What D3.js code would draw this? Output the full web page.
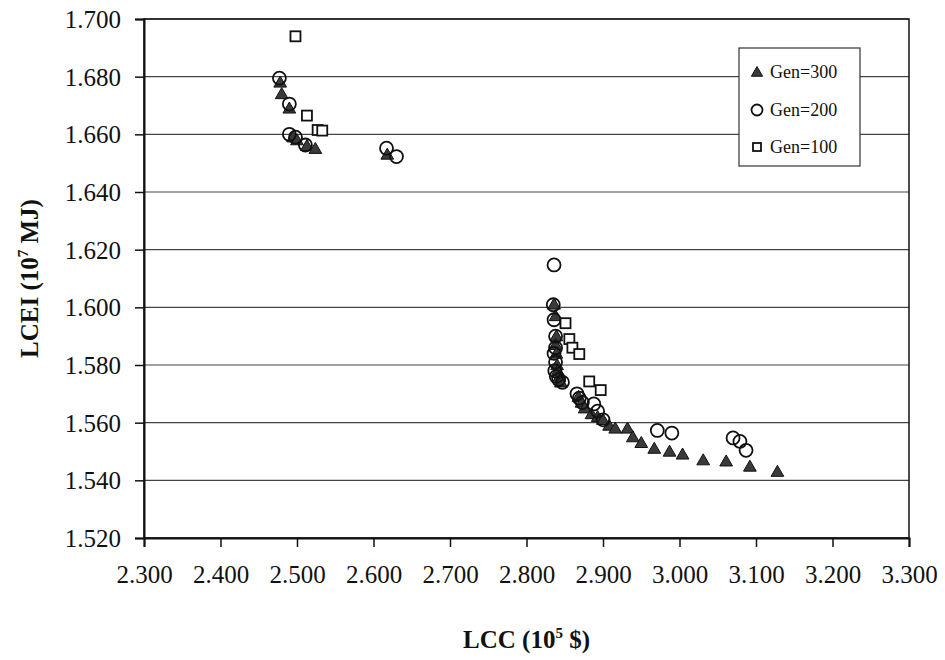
<!DOCTYPE html>
<html><head><meta charset="utf-8">
<script src="https://cdn.jsdelivr.net/npm/d3@7/dist/d3.min.js"></script>
<style>body{margin:0;background:#fff}svg{display:block}</style>
</head><body>
<svg id="c" width="945" height="660"></svg>
<script>
const gen300 = [
 [2.478,1.678],[2.480,1.674],[2.490,1.669],[2.495,1.659],[2.500,1.658],[2.513,1.656],[2.524,1.655],[2.618,1.653],
 [2.836,1.601],[2.838,1.597],[2.839,1.590],[2.838,1.587],[2.839,1.584],[2.840,1.580],[2.841,1.578],[2.843,1.576],
 [2.845,1.574],[2.868,1.569],[2.872,1.567],[2.876,1.565],[2.885,1.563],[2.893,1.562],[2.900,1.561],[2.908,1.559],
 [2.916,1.558],[2.932,1.558],[2.939,1.555],[2.950,1.553],[2.967,1.551],[2.987,1.550],[3.004,1.549],[3.031,1.547],
 [3.061,1.5466],[3.092,1.5448],[3.128,1.543]
];
const gen200 = [
 [2.477,1.6795],[2.490,1.6705],[2.490,1.660],[2.498,1.659],[2.511,1.6563],[2.617,1.6552],[2.630,1.6523],
 [2.836,1.6147],[2.835,1.6009],[2.836,1.5957],[2.838,1.590],[2.838,1.586],[2.836,1.584],[2.838,1.581],[2.837,1.578],
 [2.839,1.576],[2.842,1.575],[2.847,1.574],[2.866,1.570],[2.869,1.5685],[2.873,1.567],[2.888,1.5665],[2.893,1.564],
 [2.900,1.561],[2.971,1.5573],[2.990,1.5564],[3.070,1.5547],[3.079,1.5535],[3.087,1.5504]
];
const gen100 = [
 [2.498,1.694],[2.513,1.6665],[2.527,1.6615],[2.533,1.6613],
 [2.851,1.5945],[2.856,1.589],[2.860,1.586],[2.869,1.5838],[2.882,1.5743],[2.897,1.5713]
];
const xTicks = [2.3,2.4,2.5,2.6,2.7,2.8,2.9,3.0,3.1,3.2,3.3];
const yTicks = [1.52,1.54,1.56,1.58,1.60,1.62,1.64,1.66,1.68,1.70];
const legendLabels = ["Gen=300","Gen=200","Gen=100"];

const svg = d3.select("#c");
const L=144, R=909, T=19, B=538;
const x = d3.scaleLinear().domain([2.3,3.3]).range([L,R]);
const y = d3.scaleLinear().domain([1.52,1.70]).range([B,T]);
const font = "'Liberation Serif','Times New Roman',serif";

// gridlines
svg.append("g").selectAll("line").data(yTicks).join("line")
  .attr("x1",L).attr("x2",R).attr("y1",d=>y(d)).attr("y2",d=>y(d))
  .attr("stroke","#444").attr("stroke-width",1.2);
// frame
svg.append("rect").attr("x",L).attr("y",T).attr("width",R-L).attr("height",B-T)
  .attr("fill","none").attr("stroke","#111").attr("stroke-width",1.5);

const gx = svg.append("g").attr("transform",`translate(0,${B})`)
  .call(d3.axisBottom(x).tickValues(xTicks).tickFormat(d3.format(".3f")).tickSize(9).tickPadding(18));
const gy = svg.append("g").attr("transform",`translate(${L},0)`)
  .call(d3.axisLeft(y).tickValues(yTicks).tickFormat(d3.format(".3f")).tickSize(9).tickPadding(14));
[gx,gy].forEach(g=>{
  g.select(".domain").attr("stroke","#111").attr("stroke-width",2);
  g.selectAll(".tick line").attr("stroke","#111").attr("stroke-width",1.5);
  g.selectAll("text").attr("font-family",font).attr("font-size",25).attr("fill","#111");
});
gy.selectAll("text").attr("dy","0.34em");

// titles
const xt = svg.append("text").attr("x",(L+R)/2).attr("y",648).attr("text-anchor","middle")
  .attr("font-family",font).attr("font-weight","bold").attr("font-size",25).attr("fill","#111");
xt.append("tspan").text("LCC (10");
xt.append("tspan").text("5").attr("font-size",15).attr("dy",-10);
xt.append("tspan").text(" $)").attr("dy",10);

const yt = svg.append("text").attr("transform",`translate(38,${(T+B)/2}) rotate(-90)`).attr("text-anchor","middle")
  .attr("font-family",font).attr("font-weight","bold").attr("font-size",25).attr("fill","#111");
yt.append("tspan").text("LCEI (10");
yt.append("tspan").text("7").attr("font-size",15).attr("dy",-10);
yt.append("tspan").text(" MJ)").attr("dy",10);

const tri = d3.symbol().type(d3.symbolTriangle).size(70);
// series
svg.append("g").selectAll("path").data(gen300).join("path")
  .attr("d",tri).attr("transform",d=>`translate(${x(d[0])},${y(d[1])+1})`)
  .attr("fill","#3a3a3a").attr("stroke","#111").attr("stroke-width",1);
svg.append("g").selectAll("circle").data(gen200).join("circle")
  .attr("cx",d=>x(d[0])).attr("cy",d=>y(d[1])).attr("r",6.5)
  .attr("fill","none").attr("stroke","#111").attr("stroke-width",1.8);
svg.append("g").selectAll("rect").data(gen100).join("rect")
  .attr("x",d=>x(d[0])-5).attr("y",d=>y(d[1])-5).attr("width",10).attr("height",10)
  .attr("fill","#fff").attr("stroke","#111").attr("stroke-width",1.8);

// legend
const lg = svg.append("g");
lg.append("rect").attr("x",739).attr("y",48).attr("width",121).attr("height",118)
  .attr("fill","#fff").attr("stroke","#333").attr("stroke-width",1.2);
const rows = [72,110,147];
lg.append("path").attr("d",d3.symbol().type(d3.symbolTriangle).size(55))
  .attr("transform",`translate(757,${rows[0]+1})`).attr("fill","#3a3a3a").attr("stroke","#111");
lg.append("circle").attr("cx",757).attr("cy",rows[1]).attr("r",5.5).attr("fill","none").attr("stroke","#111").attr("stroke-width",1.8);
lg.append("rect").attr("x",753).attr("y",rows[2]-4).attr("width",8).attr("height",8).attr("fill","#fff").attr("stroke","#111").attr("stroke-width",1.8);
lg.selectAll("text").data(legendLabels).join("text")
  .attr("x",770).attr("y",(d,i)=>rows[i]).attr("dy","0.34em")
  .attr("font-family",font).attr("font-size",18).attr("fill","#111").text(d=>d);
</script>
</body></html>
